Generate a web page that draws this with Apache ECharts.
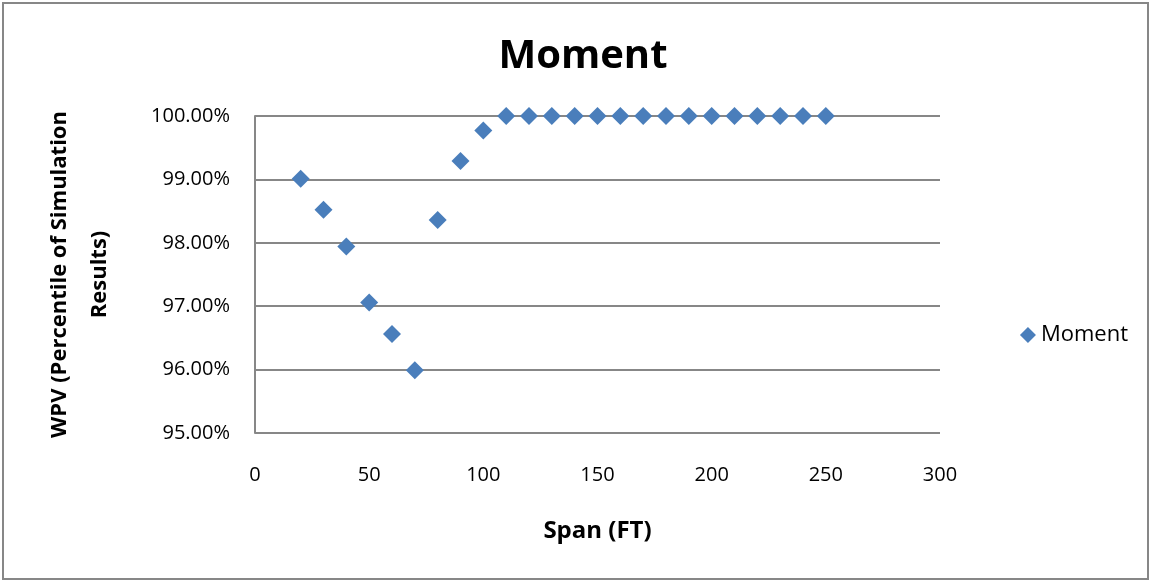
<!DOCTYPE html>
<html><head><meta charset="utf-8">
<script src="https://cdn.jsdelivr.net/npm/echarts@6/dist/echarts.min.js"></script>
<style>html,body{margin:0;padding:0;background:#fff}#c{width:1151px;height:582px}</style>
</head><body><div id="c"></div>
<script>
const spans = [20,30,40,50,60,70,80,90,100,110,120,130,140,150,160,170,180,190,200,210,220,230,240,250];
const wpvPercent = [99.01,98.52,97.94,97.06,96.56,95.99,98.36,99.29,99.77,100,100,100,100,100,100,100,100,100,100,100,100,100,100,100];
const xTicks = [0,50,100,150,200,250,300];
const yTicks = [95,96,97,98,99,100];
const seriesName = 'Moment';
const font = '"Open Sans",sans-serif';
const chart = echarts.init(document.getElementById('c'));
chart.setOption({
  animation:false,
  graphic:[{type:'rect',shape:{x:3,y:3,width:1145,height:576},style:{fill:null,stroke:'#878787',lineWidth:2},silent:true}],
  title:{text:'Moment',left:578,textAlign:'center',top:32,textStyle:{fontFamily:font,fontSize:40,fontWeight:'bold',color:'#000'}},
  legend:{right:18,top:319,orient:'vertical',itemWidth:16,itemHeight:16,itemGap:6,textStyle:{fontFamily:font,fontSize:22,color:'#000'},data:[{name:seriesName,icon:'diamond'}]},
  grid:{left:255,right:211,top:116,bottom:149,outerBoundsMode:'none',containLabel:false},
  xAxis:{type:'value',min:xTicks[0],max:xTicks[xTicks.length-1],interval:50,
    name:'Span (FT)',nameLocation:'middle',nameGap:86,
    nameTextStyle:{fontFamily:font,fontSize:24,fontWeight:'bold',color:'#000'},
    axisLine:{show:false},axisTick:{show:false},splitLine:{show:false},
    axisLabel:{fontFamily:font,fontSize:20,color:'#000',margin:32}},
  yAxis:{type:'value',min:yTicks[0],max:yTicks[yTicks.length-1],interval:1,
    name:'WPV (Percentile of Simulation\nResults)',nameLocation:'middle',nameGap:135,nameRotate:90,
    nameTextStyle:{fontFamily:font,fontSize:22,fontWeight:'bold',color:'#000',lineHeight:40},
    axisLine:{show:true,lineStyle:{color:'#878787',width:2}},axisTick:{show:false},
    splitLine:{show:true,lineStyle:{color:'#878787',width:2}},
    axisLabel:{fontFamily:font,fontSize:20,color:'#000',margin:25,formatter:v=>v.toFixed(2)+'%'}},
  series:[{name:seriesName,type:'scatter',symbol:'diamond',symbolSize:18,
    itemStyle:{color:'#4a7ebb',opacity:1},data:spans.map((s,i)=>[s,wpvPercent[i]])}]
});
</script></body></html>
